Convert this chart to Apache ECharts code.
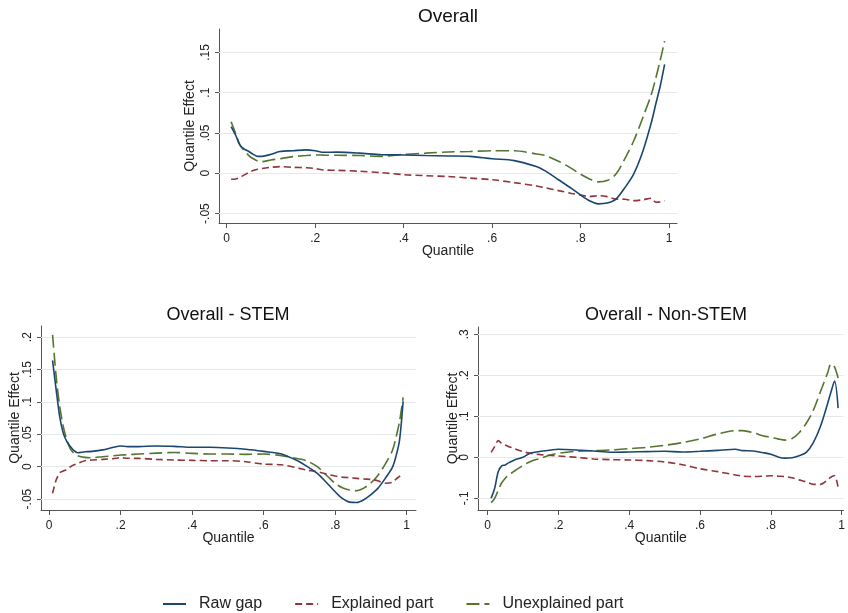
<!DOCTYPE html>
<html>
<head>
<meta charset="utf-8">
<script src="https://cdn.jsdelivr.net/npm/echarts@6/dist/echarts.min.js"></script>
<style>
  html, body { margin: 0; padding: 0; background: #fff; }
  #chart { width: 848px; height: 613px; }
</style>
</head>
<body>
<div id="chart"></div>
<script>
var quantiles = [0.01, 0.02, 0.03, 0.04, 0.05, 0.06, 0.07, 0.08, 0.10, 0.12, 0.15, 0.18, 0.20, 0.22, 0.25,
  0.30, 0.35, 0.40, 0.45, 0.50, 0.55, 0.60, 0.65, 0.70, 0.72, 0.75, 0.78, 0.80, 0.82, 0.84, 0.86, 0.88,
  0.90, 0.92, 0.94, 0.96, 0.97, 0.98, 0.99];

// Overall
var overallRaw = [0.058, 0.0475, 0.035, 0.030, 0.027, 0.0235, 0.021, 0.021, 0.0235, 0.027, 0.028, 0.029, 0.028, 0.026, 0.0262,
  0.025, 0.023, 0.0227, 0.022, 0.0215, 0.021, 0.018, 0.0157, 0.0083, 0.003, -0.008, -0.019, -0.027, -0.034, -0.038, -0.037, -0.032,
  -0.018, -0.001, 0.026, 0.063, 0.086, 0.108, 0.135];
var overallExpl = [-0.0075, -0.007, -0.005, -0.002, 0.001, 0.0033, 0.005, 0.006, 0.0074, 0.0083, 0.0074, 0.0068, 0.006, 0.004, 0.0037,
  0.0025, 0.0008, -0.0017, -0.003, -0.004, -0.006, -0.008, -0.0116, -0.0157, -0.018, -0.0215, -0.025, -0.027, -0.029, -0.0277, -0.029, -0.032,
  -0.0322, -0.034, -0.033, -0.031, -0.036, -0.0355, -0.034];
var overallUnexpl = [0.064, 0.0496, 0.035, 0.028, 0.022, 0.018, 0.0153, 0.0145, 0.0165, 0.018, 0.0207, 0.022, 0.0227, 0.0225, 0.0223,
  0.022, 0.021, 0.0235, 0.025, 0.0264, 0.027, 0.028, 0.028, 0.024, 0.022, 0.015, 0.0058, -0.0012, -0.007, -0.0107, -0.009, -0.001,
  0.018, 0.040, 0.068, 0.098, 0.118, 0.14, 0.164];

// Overall - STEM
var stemRaw = [0.164, 0.1186, 0.077, 0.0515, 0.0387, 0.031, 0.0247, 0.0216, 0.023, 0.0237, 0.026, 0.030, 0.032, 0.031, 0.031,
  0.032, 0.0314, 0.030, 0.030, 0.029, 0.027, 0.0237, 0.0196, 0.0077, 0.001, -0.0103, -0.027, -0.0387, -0.049, -0.0546, -0.0552, -0.051,
  -0.043, -0.033, -0.018, -0.001, 0.016, 0.041, 0.101];
var stemExpl = [-0.041, -0.0206, -0.0093, -0.0067, -0.004, 0, 0.003, 0.005, 0.0093, 0.0103, 0.0113, 0.0125, 0.0139, 0.013, 0.0129,
  0.0113, 0.0103, 0.0098, 0.0093, 0.0093, 0.0077, 0.0041, 0.003, -0.0026, -0.005, -0.0077, -0.012, -0.0144, -0.016, -0.017, -0.018, -0.019,
  -0.0196, -0.0216, -0.0256, -0.024, -0.019, -0.015, -0.010];
var stemUnexpl = [0.2036, 0.139, 0.093, 0.062, 0.041, 0.027, 0.0206, 0.017, 0.0144, 0.0139, 0.0155, 0.017, 0.018, 0.0185, 0.0196,
  0.021, 0.022, 0.0206, 0.0196, 0.0196, 0.019, 0.0196, 0.017, 0.0119, 0.0093, 0, -0.0155, -0.0258, -0.0325, -0.036, -0.037, -0.033,
  -0.025, -0.013, 0.004, 0.025, 0.045, 0.07, 0.107];

// Overall - Non-STEM
var nonStemRaw = [-0.10, -0.0756, -0.035, -0.021, -0.0187, -0.013, -0.009, -0.0049, 0, 0.0098, 0.0146, 0.018, 0.0195, 0.019, 0.0179,
  0.0154, 0.0122, 0.013, 0.0138, 0.0146, 0.013, 0.0146, 0.017, 0.0195, 0.0163, 0.0154, 0.011, 0.0073, 0.001, -0.002, -0.001, 0.004,
  0.012, 0.036, 0.075, 0.13, 0.16, 0.186, 0.12];
var nonStemExpl = [0.012, 0.026, 0.0407, 0.034, 0.030, 0.026, 0.023, 0.0195, 0.0138, 0.0098, 0.0065, 0.0045, 0.0033, 0.002, 0,
  -0.004, -0.0057, -0.0065, -0.008, -0.0114, -0.018, -0.028, -0.035, -0.043, -0.046, -0.047, -0.046, -0.045, -0.046, -0.047, -0.05, -0.055,
  -0.06, -0.066, -0.066, -0.055, -0.048, -0.045, -0.074];
var nonStemUnexpl = [-0.1106, -0.10, -0.08, -0.062, -0.051, -0.043, -0.037, -0.031, -0.02, -0.0106, -0.0024, 0.006, 0.0098, 0.012, 0.0146,
  0.0163, 0.0179, 0.0211, 0.0244, 0.0293, 0.0358, 0.0447, 0.057, 0.065, 0.065, 0.06, 0.052, 0.0488, 0.045, 0.042, 0.046, 0.06,
  0.083, 0.115, 0.16, 0.205, 0.228, 0.22, 0.193];

var xTicks = [0, 0.2, 0.4, 0.6, 0.8, 1];
var yTicksOverall = [-0.05, 0, 0.05, 0.1, 0.15];
var yTicksStem = [-0.05, 0, 0.05, 0.1, 0.15, 0.2];
var yTicksNonStem = [-0.1, 0, 0.1, 0.2, 0.3];

var seriesNames = ['Raw gap', 'Explained part', 'Unexplained part'];
var colors = ['#1a476f', '#90353b', '#55752f'];
var dashes = ['solid', [7, 4], [13, 5]];

var FONT = '"Liberation Sans", Arial, sans-serif';

function stataLabel(v) {
  if (v === 0) return '0';
  return String(v).replace('0.', '.');
}

function pairs(vals) {
  return quantiles.map(function (q, i) { return [q, vals[i]]; });
}

function makeX(idx, min, max) {
  return {
    type: 'value', gridIndex: idx, min: min, max: max,
    name: 'Quantile', nameLocation: 'middle', nameGap: 21, nameMoveOverlap: false,
    nameTextStyle: { fontSize: 14, color: '#222', fontFamily: FONT },
    axisLine: { show: true, onZero: false, lineStyle: { color: '#555', width: 1 } },
    axisTick: { show: true, length: 5, customValues: xTicks, lineStyle: { color: '#555' } },
    axisLabel: { customValues: xTicks, formatter: stataLabel, fontSize: 12, color: '#222', margin: 10, fontFamily: FONT },
    splitLine: { show: false }
  };
}

function makeY(idx, min, max, ticks, gap) {
  return {
    type: 'value', gridIndex: idx, min: min, max: max,
    name: 'Quantile Effect', nameLocation: 'middle', nameGap: gap, nameMoveOverlap: false,
    nameTextStyle: { fontSize: 14, color: '#222', fontFamily: FONT },
    axisLine: { show: true, onZero: false, lineStyle: { color: '#555', width: 1 } },
    axisTick: { show: true, length: 4, customValues: ticks, lineStyle: { color: '#555' } },
    axisLabel: { customValues: ticks, formatter: stataLabel, rotate: 90, fontSize: 12, color: '#222', margin: 7, fontFamily: FONT },
    splitLine: { show: false }
  };
}

// horizontal grid lines at the y ticks
function gridLines(ticks) {
  return {
    silent: true,
    symbol: 'none',
    z: 1,
    label: { show: false },
    lineStyle: { color: '#e6e9eb', width: 1, type: 'solid' },
    emphasis: { disabled: true },
    data: ticks.map(function (v) { return { yAxis: v }; })
  };
}

var panels = [
  [overallRaw, overallExpl, overallUnexpl],
  [stemRaw, stemExpl, stemUnexpl],
  [nonStemRaw, nonStemExpl, nonStemUnexpl]
];
var panelTicks = [yTicksOverall, yTicksStem, yTicksNonStem];

var series = [];
panels.forEach(function (panel, g) {
  panel.forEach(function (vals, k) {
    var s = {
      name: seriesNames[k],
      type: 'line',
      xAxisIndex: g,
      yAxisIndex: g,
      data: pairs(vals),
      showSymbol: false,
      symbol: 'none',
      smooth: 0.3,
      z: 4 - k,
      lineStyle: { color: colors[k], width: 1.6, type: dashes[k] },
      itemStyle: { color: colors[k] }
    };
    if (k === 0) {
      s.markLine = gridLines(panelTicks[g]);
    }
    series.push(s);
  });
});

var chart = echarts.init(document.getElementById('chart'));
var option = {
  backgroundColor: '#ffffff',
  animation: false,
  grid: [
    { left: 219, top: 29, width: 458, height: 194 },
    { left: 41, top: 326, width: 375, height: 184 },
    { left: 478, top: 327, width: 370, height: 183 }
  ],
  xAxis: [
    makeX(0, -0.0174, 1.018),
    makeX(1, -0.0224, 1.026),
    makeX(2, -0.0271, 1.0056)
  ],
  yAxis: [
    makeY(0, -0.0617, 0.179, yTicksOverall, 22),
    makeY(1, -0.0668, 0.2172, yTicksStem, 19),
    makeY(2, -0.1285, 0.3178, yTicksNonStem, 18)
  ],
  graphic: [
    { type: 'text', x: 448, y: 17, style: { text: 'Overall', fill: '#111', font: '19px ' + FONT, textAlign: 'center', textVerticalAlign: 'middle' } },
    { type: 'text', x: 228, y: 315, style: { text: 'Overall - STEM', fill: '#111', font: '18px ' + FONT, textAlign: 'center', textVerticalAlign: 'middle' } },
    { type: 'text', x: 666, y: 315, style: { text: 'Overall - Non-STEM', fill: '#111', font: '18px ' + FONT, textAlign: 'center', textVerticalAlign: 'middle' } }
  ],
  legend: {
    data: seriesNames,
    left: 157,
    top: 591,
    itemWidth: 23,
    itemHeight: 14,
    itemGap: 32,
    itemStyle: { opacity: 0 },
    textStyle: { fontSize: 16, color: '#222', fontFamily: FONT, padding: [0, 0, 0, 8] }
  },
  series: series
};
chart.setOption(option);
</script>
</body>
</html>
